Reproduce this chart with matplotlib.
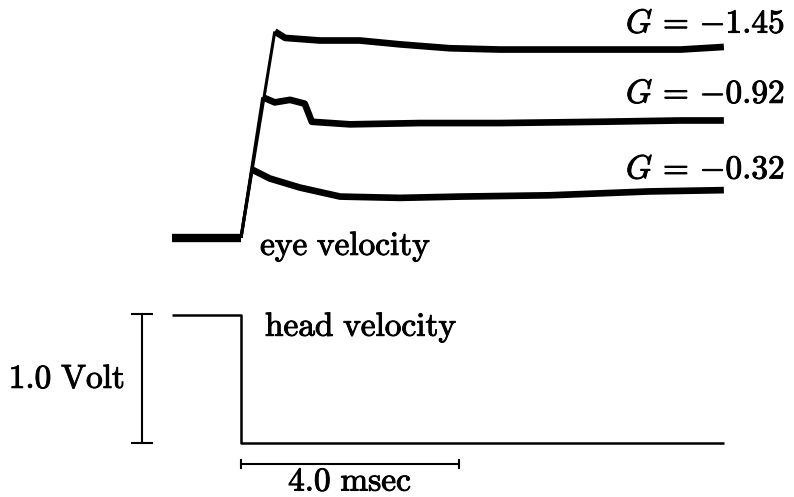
import matplotlib
matplotlib.use("Agg")

import matplotlib.pyplot as plt
import matplotlib.patheffects as pe

plt.rcParams["mathtext.fontset"] = "cm"

# ---- traces (time in msec, signal in Volt)
base_t = [-1.27, 0.0]
base_v = [1.59, 1.59]

g145_t = [0.0, 0.62, 0.81, 1.45, 2.18, 2.92, 3.83, 4.75, 5.85, 6.97, 8.07, 8.86]
g145_v = [1.59, 3.19, 3.14, 3.12, 3.12, 3.09, 3.06, 3.05, 3.05, 3.05, 3.05, 3.07]

g092_t = [0.0, 0.40, 0.62, 0.90, 1.17, 1.30, 2.00, 3.28, 4.75, 6.59, 8.06, 8.86]
g092_v = [1.59, 2.68, 2.64, 2.66, 2.63, 2.49, 2.47, 2.48, 2.48, 2.49, 2.50, 2.50]

g032_t = [0.0, 0.20, 0.53, 1.08, 1.82, 2.92, 4.02, 5.67, 7.50, 8.86]
g032_v = [1.59, 2.12, 2.05, 1.98, 1.91, 1.90, 1.91, 1.92, 1.95, 1.96]

head_t = [-1.27, 0.0, 0.0, 8.86]
head_v = [0.99, 0.99, 0.0, 0.0]

gains = ["1.45", "0.92", "0.32"]
gain_label_v = [3.18, 2.636, 2.05]

fig = plt.figure(figsize=(7.94, 4.97), dpi=100)
ax = fig.add_axes([0, 0, 1, 1])
ax.set_xlim(-4.422, 10.147)
ax.set_ylim(-0.419, 3.434)
ax.axis("off")

k = dict(color="black", solid_joinstyle="round", solid_capstyle="butt")
ax.plot(base_t, base_v, lw=6.0, **k)
for tt, vv in [(g145_t, g145_v), (g092_t, g092_v), (g032_t, g032_v)]:
    ax.plot(tt[:2], vv[:2], lw=2.2, **k)      # fast rise
    ax.plot(tt[1:], vv[1:], lw=4.8, **k)      # noisy plateau
ax.plot(head_t, head_v, lw=1.8, **k)

# scale bars
ax.plot([-1.817, -1.817], [0.0, 1.0], color="black", lw=1.5)
for v in (0.0, 1.0):
    ax.plot([-2.0, -1.633], [v, v], color="black", lw=1.5)
ax.plot([0.0, 4.0], [-0.163, -0.163], color="black", lw=1.5)
for t in (0.0, 4.0):
    ax.plot([t, t], [-0.194, -0.132], color="black", lw=1.5)

fs = 24
thick = [pe.withStroke(linewidth=0.7, foreground="black")]
for g, v in zip(gains, gain_label_v):
    ax.text(9.98, v, rf"$G\,=\,{{-}}{g}$", ha="right", va="baseline",
            fontsize=fs, path_effects=thick)
ax.text(0.35, 1.457, r"$\mathrm{eye\ velocity}$", va="baseline", fontsize=fs,
        path_effects=thick)
ax.text(0.44, 0.83, r"$\mathrm{head\ velocity}$", va="baseline", fontsize=fs,
        path_effects=thick)
ax.text(-2.13, 0.426, r"$\mathrm{1.0\ Volt}$", ha="right", va="baseline",
        fontsize=fs, path_effects=thick)
ax.text(2.0, -0.37, r"$\mathrm{4.0\ msec}$", ha="center", va="baseline",
        fontsize=fs, path_effects=thick)

fig.savefig("out.png", dpi=100)
